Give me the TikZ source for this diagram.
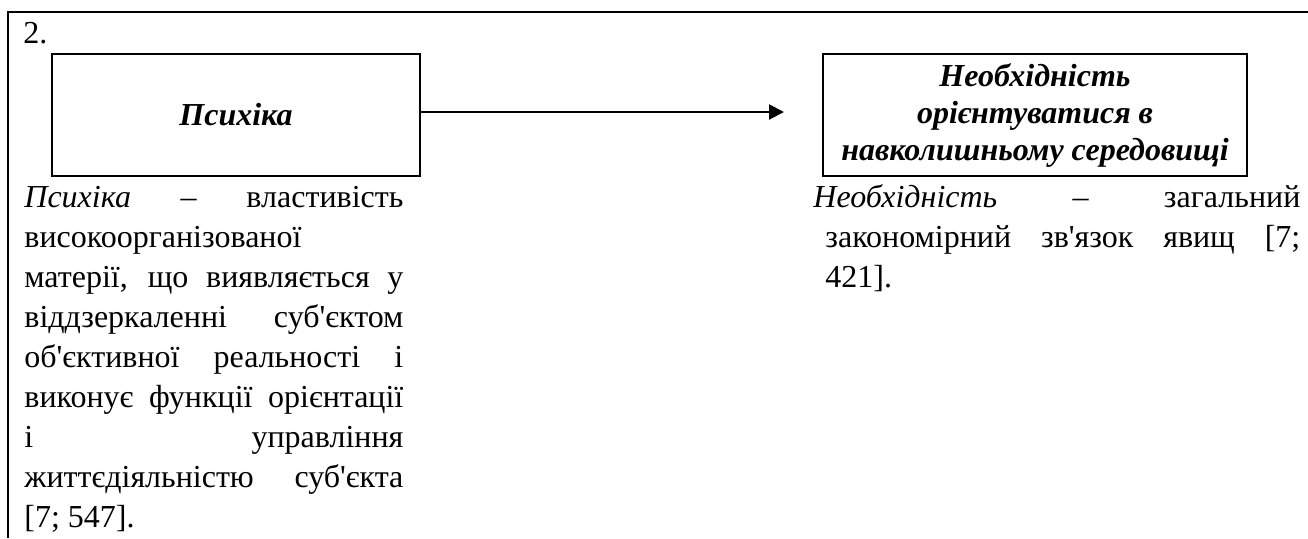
\documentclass[tikz,border=0pt]{standalone}
\usepackage{fontspec}
\setmainfont{Liberation Serif}[Ligatures=TeXOff]
\usepackage{tikz}
\usetikzlibrary{arrows.meta, positioning}
\tikzstyle{conceptbox} = [rectangle, draw, line width=1pt, text centered, align=center, font=\fontsize{16}{18.5}\selectfont\bfseries\itshape]
\tikzstyle{defntext} = [inner sep=0pt, anchor=north west, align=justify, font=\fontsize{16}{20}\selectfont]

\begin{document}
\begin{tikzpicture}[x=0.5pt, y=-0.5pt]
        \useasboundingbox (0, 0) rectangle (1308, 538);
        \draw[line width=1pt] (1308, 12) -- (8, 12) -- (8, 538);
        \node[anchor=base west, inner sep=0pt, font=\fontsize{16}{18.1}\selectfont] at (23, 43) (Number) {2.};

        \node[conceptbox, minimum width=184pt, minimum height=61pt] at (236, 115) (Psyche) {Психіка};
        \node[conceptbox, minimum width=212pt, minimum height=61pt] at (1035, 115) (Need) {Необхідність\\орієнтуватися в\\навколишньому середовищі};

        \node[defntext, text width=189.5pt] at (24, 179) (PsycheDef) {\noindent\hyphenpenalty=10000\strut\textit{Психіка} – властивість\linebreak{}
            високоорганізованої\linebreak{}
            матерії, що виявляється у\linebreak{}
            віддзеркаленні суб'єктом\linebreak{}
            об'єктивної реальності і\linebreak{}
            виконує функції орієнтації\linebreak{}
            і управління\linebreak{}
            життєдіяльністю суб'єкта\linebreak{}
            {[7; 547].}};
        \node[defntext, text width=243.5pt] at (813, 179) (NeedDef) {\noindent\hyphenpenalty=10000\strut\textit{Необхідність} – загальний\linebreak{}
            \hspace*{6pt}закономірний зв'язок явищ [7;\linebreak{}
            \hspace*{6pt}421].};

        \draw[line width=1pt, -{Triangle[length=7.5pt, width=7.5pt]}, shorten >=19pt] ([yshift=1.5pt]Psyche.east) -- ([yshift=1.5pt]Need.west);
    \end{tikzpicture}
\end{document}
